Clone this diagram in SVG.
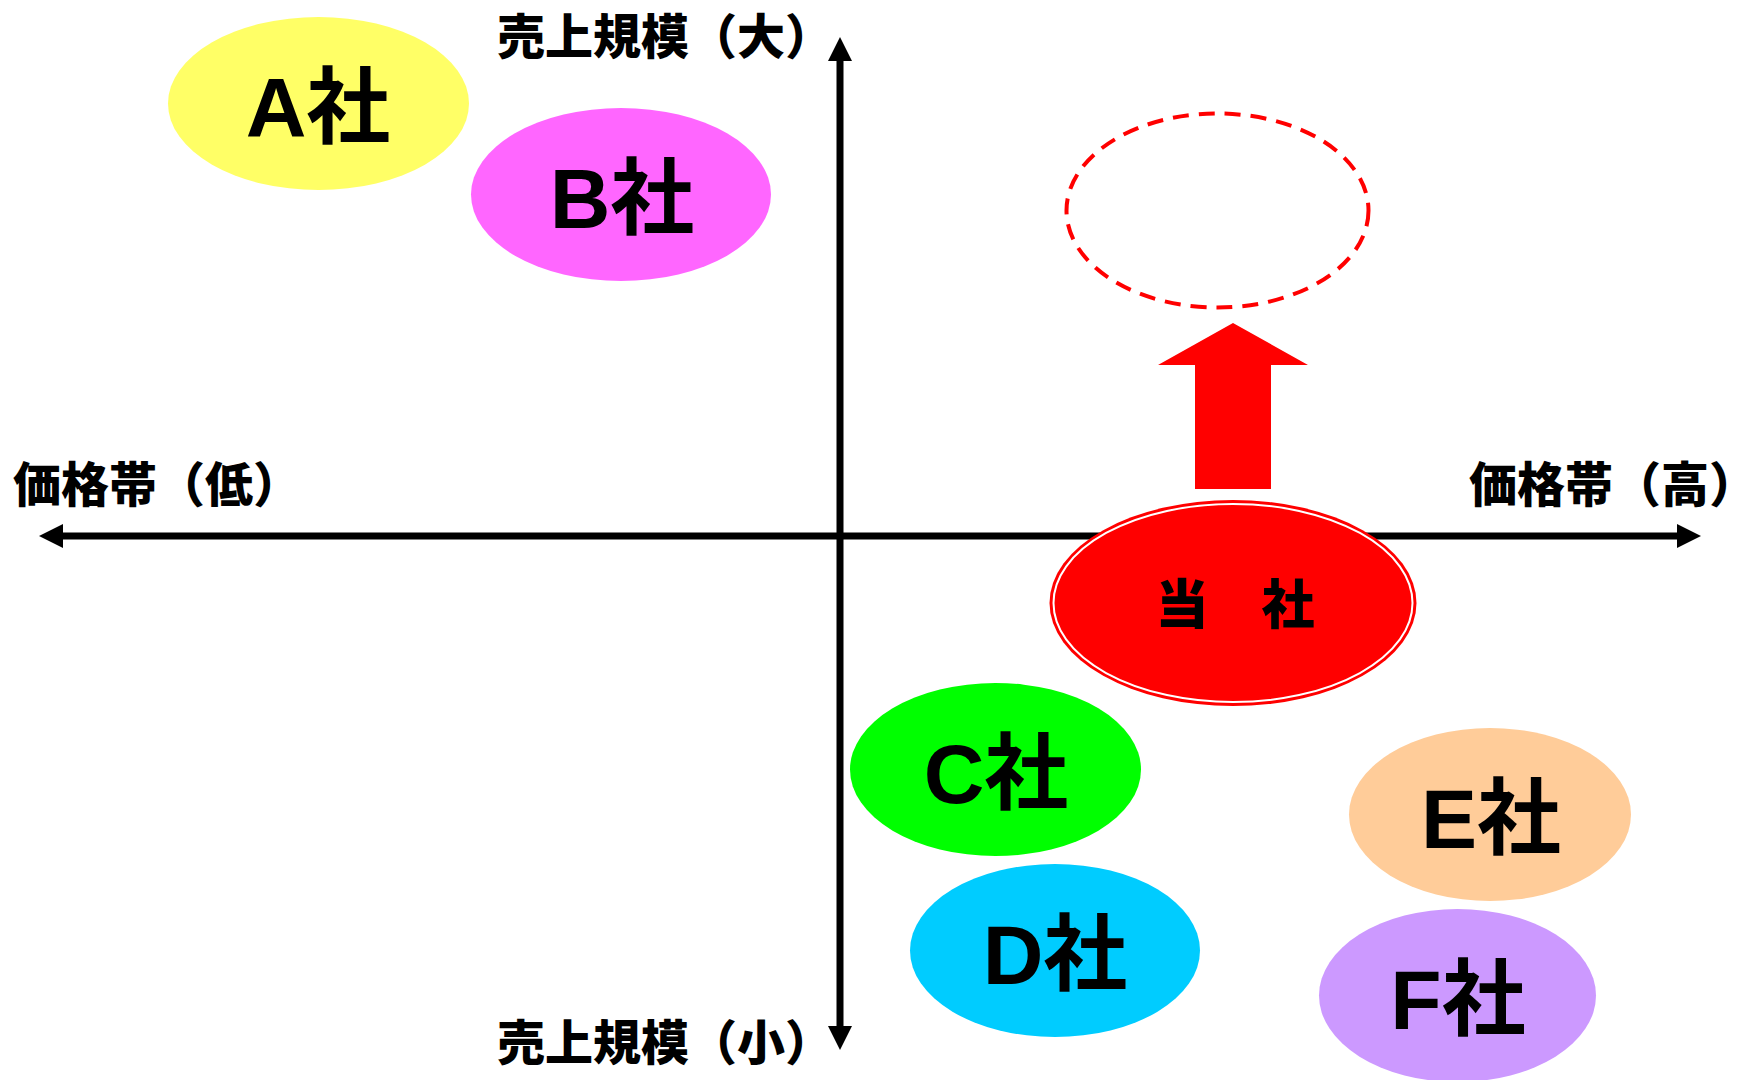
<svg xmlns="http://www.w3.org/2000/svg" width="1758" height="1080" viewBox="0 0 1758 1080">
  <defs>
    <marker id="ah" markerUnits="userSpaceOnUse" markerWidth="24" markerHeight="24" refX="14" refY="12" orient="auto-start-reverse" viewBox="0 0 24 24">
      <path d="M0,0 L24,12 L0,24 Z" fill="#000"/>
    </marker>
    <style>
      .axis { stroke: #000; stroke-width: 7; fill: none; marker-start: url(#ah); marker-end: url(#ah); }
      .axlbl { font-family: "Noto Sans CJK JP", "Noto Sans CJK SC", sans-serif; font-weight: 900; font-size: 48px; fill: #000; }
      .co { font-family: "Liberation Sans", "Noto Sans CJK JP", sans-serif; font-weight: 700; font-size: 84px; fill: #000; text-anchor: middle; }
      .us { font-family: "Noto Sans CJK JP", sans-serif; font-weight: 900; font-size: 53px; fill: #000; text-anchor: middle; }
    </style>
  </defs>
  <rect width="1758" height="1080" fill="#fff"/>

  <g id="connectors">
    <line class="axis" x1="49" y1="536" x2="1691" y2="536"/>
    <line class="axis" x1="840" y1="1040" x2="840" y2="47"/>
    <polygon id="growth-arrow" points="1233,323 1308,365 1271,365 1271,489 1195,489 1195,365 1158,365" fill="#FF0000"/>
  </g>

  <g id="axis-labels">
    <text class="axlbl" x="497" y="54">売上規模（大）</text>
    <text class="axlbl" x="497" y="1060">売上規模（小）</text>
    <text class="axlbl" x="13" y="502">価格帯（低）</text>
    <text class="axlbl" x="1469" y="502">価格帯（高）</text>
  </g>

  <g id="node-target">
    <ellipse cx="1217.5" cy="210.5" rx="151" ry="97" fill="none" stroke="#FF0000" stroke-width="4" stroke-dasharray="16 10"/>
  </g>

  <g id="node-A">
    <ellipse cx="318.5" cy="103.5" rx="150.5" ry="86.5" fill="#FFFF66"/>
    <text class="co" x="318" y="137">A社</text>
  </g>
  <g id="node-B">
    <ellipse cx="621" cy="194.5" rx="150" ry="86.5" fill="#FF66FF"/>
    <text class="co" x="622" y="228">B社</text>
  </g>
  <g id="node-us">
    <ellipse cx="1233" cy="603" rx="183.5" ry="103" fill="#FF0000"/>
    <ellipse cx="1233" cy="603" rx="179.5" ry="99" fill="none" stroke="#fff" stroke-width="2"/>
    <text class="us" x="1235" y="624">当　社</text>
  </g>
  <g id="node-C">
    <ellipse cx="995.5" cy="769.5" rx="145.5" ry="86.5" fill="#00FF00"/>
    <text class="co" x="996" y="803">C社</text>
  </g>
  <g id="node-D">
    <ellipse cx="1055" cy="950.5" rx="145" ry="86.5" fill="#00CCFF"/>
    <text class="co" x="1055" y="984">D社</text>
  </g>
  <g id="node-E">
    <ellipse cx="1490" cy="814.5" rx="141" ry="86.5" fill="#FFCC99"/>
    <text class="co" x="1491" y="848">E社</text>
  </g>
  <g id="node-F">
    <ellipse cx="1457.5" cy="995.5" rx="138.5" ry="86.5" fill="#CC99FF"/>
    <text class="co" x="1458" y="1029">F社</text>
  </g>
</svg>
